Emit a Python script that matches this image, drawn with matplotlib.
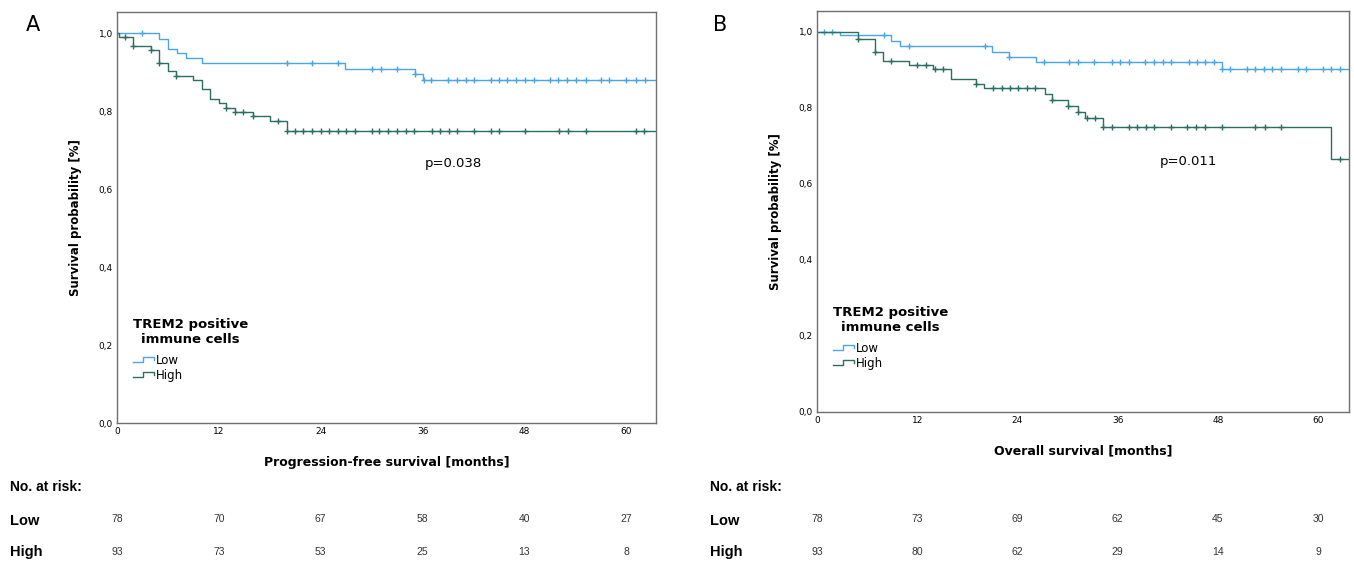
import numpy as np
import matplotlib
matplotlib.use('Agg')
import matplotlib.pyplot as plt
import matplotlib.transforms as mtransforms
from matplotlib.legend_handler import HandlerBase
from matplotlib.lines import Line2D

# ---- data ----
# panel A: progression-free survival
a_low_t = [0, 5.0, 6.0, 7.1, 8.1, 10.0, 26.9, 35.1, 36.0]
a_low_s = [1.0, 0.986, 0.960, 0.949, 0.935, 0.924, 0.909, 0.895, 0.879]
a_low_cens = [3.0, 20.0, 23.0, 26.0, 30.1, 31.1, 33.0, 35.1, 36.2, 37.0, 39.0, 40.0,
              41.1, 42.1, 44.1, 45.0, 46.0, 47.0, 48.1, 49.1, 51.0, 52.0, 53.0, 54.1,
              55.2, 57.0, 58.0, 60.0, 61.1, 62.2]
a_high_t = [0, 0.2, 1.9, 4.0, 5.0, 6.0, 6.9, 9.0, 10.0, 10.9, 12.0, 12.9, 13.9, 16.0, 18.0, 20.0]
a_high_s = [1.0, 0.99, 0.968, 0.956, 0.924, 0.903, 0.89, 0.879, 0.856, 0.832, 0.821,
            0.809, 0.798, 0.787, 0.775, 0.75]
a_high_cens = [0.9, 1.9, 4.0, 5.0, 6.9, 12.9, 13.9, 14.9, 16.0, 19.0, 20.0, 21.0, 21.9,
               23.0, 24.0, 25.0, 26.0, 27.0, 28.0, 30.0, 30.9, 31.9, 33.0, 34.0, 35.0,
               37.1, 38.1, 39.1, 40.1, 42.1, 44.1, 45.0, 48.1, 52.1, 53.1, 55.2, 61.1, 62.1]

# panel B: overall survival
b_low_t = [0, 2.8, 8.9, 9.9, 21.0, 23.0, 26.2, 48.5]
b_low_s = [1.0, 0.992, 0.977, 0.963, 0.948, 0.935, 0.922, 0.902]
b_low_cens = [0.8, 1.8, 8.0, 11.0, 20.1, 23.0, 27.2, 30.2, 31.2, 33.2, 35.3, 36.3, 37.3,
              39.3, 40.3, 41.4, 42.4, 44.5, 45.5, 46.5, 47.5, 48.5, 49.5, 51.5, 52.5,
              53.5, 54.5, 55.5, 57.6, 58.6, 60.6, 61.6, 62.6]
b_high_t = [0, 4.9, 6.9, 7.9, 11.0, 13.9, 16.0, 19.0, 20.0, 27.3, 28.1, 30.1, 31.2, 32.1, 34.2, 61.6]
b_high_s = [1.0, 0.981, 0.946, 0.924, 0.913, 0.902, 0.876, 0.863, 0.852, 0.836, 0.821,
            0.805, 0.788, 0.773, 0.751, 0.665]
b_high_cens = [4.9, 6.9, 8.9, 12.0, 13.1, 14.1, 15.1, 19.0, 21.1, 22.1, 23.1, 24.1, 25.1,
               26.1, 28.1, 30.1, 31.2, 32.3, 33.3, 34.2, 35.3, 37.3, 38.3, 39.4, 40.4,
               42.4, 44.3, 45.4, 46.5, 48.5, 52.5, 53.7, 55.5, 62.6]

x_ticks = [0, 12, 24, 36, 48, 60]
y_ticks = [0.0, 0.2, 0.4, 0.6, 0.8, 1.0]
y_tick_labels = ['0,0', '0,2', '0,4', '0,6', '0,8', '1,0']

risk_a_low = [78, 70, 67, 58, 40, 27]
risk_a_high = [93, 73, 53, 25, 13, 8]
risk_b_low = [78, 73, 69, 62, 45, 30]
risk_b_high = [93, 80, 62, 29, 14, 9]

p_a = 'p=0.038'
p_b = 'p=0.011'

LOW_COLOR = '#4aa6e8'
HIGH_COLOR = '#2c6e62'
SPINE_COLOR = '#6f6f6f'


class StepHandler(HandlerBase):
    # little step glyph like the SPSS legend
    def create_artists(self, legend, orig_handle, xdescent, ydescent,
                       width, height, fontsize, trans):
        xs = np.array([0, 0.45, 0.45, 1.0, 1.0]) * width - xdescent
        ys = np.array([0.2, 0.2, 0.85, 0.85, 0.45]) * height - ydescent
        ln = Line2D(xs, ys, color=orig_handle.get_color(), lw=1.0, transform=trans)
        return [ln]


def km_curve(ax, t, s, cens, color, xmax, label):
    tt = list(t) + [xmax]
    ss = list(s) + [s[-1]]
    ax.step(tt, ss, where='post', color=color, lw=1.0, label=label)
    idx = np.searchsorted(t, cens, side='right') - 1
    ax.plot(cens, np.array(s)[idx], ls='none', marker='+', ms=5, mew=1.0, color=color)


def setup_axes(ax, xmax, ymax, xlabel):
    ax.set_xlim(0, xmax)
    ax.set_ylim(0, ymax)
    ax.set_xticks(x_ticks)
    ax.set_yticks(y_ticks)
    ax.set_yticklabels(y_tick_labels)
    ax.tick_params(length=0, labelsize=6.5, pad=3)
    for sp in ax.spines.values():
        sp.set_color(SPINE_COLOR)
        sp.set_linewidth(1.0)
    ax.set_xlabel(xlabel, fontsize=9, fontweight='bold', labelpad=14)
    ax.set_ylabel('Survival probability [%]', fontsize=8.5, fontweight='bold', labelpad=12)


def add_legend(ax, lines, y0):
    leg = ax.legend(handles=lines, labels=['Low', 'High'],
                    handler_map={Line2D: StepHandler()},
                    title='TREM2 positive\nimmune cells',
                    title_fontproperties={'weight': 'bold', 'size': 9.5},
                    fontsize=8.5, frameon=False, loc='lower left',
                    bbox_to_anchor=(0.03, y0), borderpad=0, borderaxespad=0,
                    handlelength=1.8, handletextpad=0.1, labelspacing=0.15,
                    alignment='left')
    leg.get_title().set_multialignment('center')
    # a bit more room between title and entries
    leg._legend_box.sep = 6


def risk_table(fig, ax, low, high, label_x):
    tr = mtransforms.blended_transform_factory(ax.transData, fig.transFigure)
    fig.text(label_x, 0.1335, 'No. at risk:', fontsize=10, fontweight='bold',
             family='Liberation Sans', va='center')
    fig.text(label_x, 0.073, 'Low', fontsize=10.5, fontweight='bold',
             family='Liberation Sans', va='center')
    fig.text(label_x, 0.0178, 'High', fontsize=10.5, fontweight='bold',
             family='Liberation Sans', va='center')
    for x, lo, hi in zip(x_ticks, low, high):
        ax.text(x, 0.077, str(lo), transform=tr, ha='center', va='center',
                fontsize=7.5, family='Liberation Sans', color='#333333')
        ax.text(x, 0.0178, str(hi), transform=tr, ha='center', va='center',
                fontsize=7.5, family='Liberation Sans', color='#333333')


fig = plt.figure(figsize=(13.54, 5.62), dpi=100)

# panel A
xmax_a = 63.5
ax_a = fig.add_axes([117 / 1354, 139 / 562, 539 / 1354, 411 / 562])
km_curve(ax_a, a_low_t, a_low_s, a_low_cens, LOW_COLOR, xmax_a, 'Low')
km_curve(ax_a, a_high_t, a_high_s, a_high_cens, HIGH_COLOR, xmax_a, 'High')
setup_axes(ax_a, xmax_a, 1.054, 'Progression-free survival [months]')
add_legend(ax_a, [Line2D([], [], color=LOW_COLOR), Line2D([], [], color=HIGH_COLOR)], 0.1)
ax_a.text(39.6, 0.666, p_a, fontsize=9.5, ha='center', va='center')
risk_table(fig, ax_a, risk_a_low, risk_a_high, 10 / 1354)
fig.text(33 / 1354, 1 - 25 / 562, 'A', fontsize=15, ha='center', va='center')

# panel B
xmax_b = 63.7
ax_b = fig.add_axes([817 / 1354, 150 / 562, 532 / 1354, 401 / 562])
km_curve(ax_b, b_low_t, b_low_s, b_low_cens, LOW_COLOR, xmax_b, 'Low')
km_curve(ax_b, b_high_t, b_high_s, b_high_cens, HIGH_COLOR, xmax_b, 'High')
setup_axes(ax_b, xmax_b, 1.055, 'Overall survival [months]')
add_legend(ax_b, [Line2D([], [], color=LOW_COLOR), Line2D([], [], color=HIGH_COLOR)], 0.105)
ax_b.text(44.5, 0.659, p_b, fontsize=9.5, ha='center', va='center')
risk_table(fig, ax_b, risk_b_low, risk_b_high, 710 / 1354)
fig.text(720 / 1354, 1 - 25 / 562, 'B', fontsize=15, ha='center', va='center')

fig.savefig('out.png', dpi=100)
